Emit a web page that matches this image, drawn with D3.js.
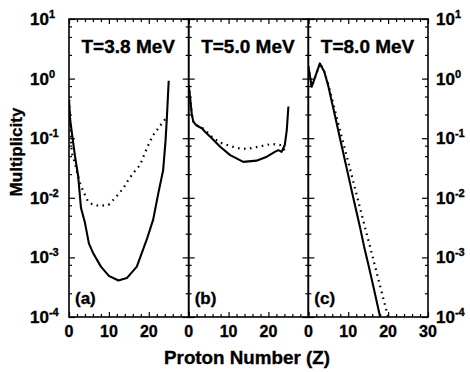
<!DOCTYPE html>
<html><head><meta charset="utf-8">
<script src="https://cdn.jsdelivr.net/npm/d3@7"></script>
<style>
body{margin:0;background:#fff}
text{font-family:"Liberation Sans",Arial,Helvetica,sans-serif;font-weight:bold;fill:#000;stroke:#000;stroke-width:0.35px}
</style>
</head><body>
<svg id="chart" width="470" height="372"></svg>
<script>
// ---- data ----
const panelLabels = ["(a)", "(b)", "(c)"];
const tempLabels = ["T=3.8 MeV", "T=5.0 MeV", "T=8.0 MeV"];
const xTickLabelsA = [0, 10, 20];
const xTickLabelsB = [0, 10, 20];
const xTickLabelsC = [0, 10, 20, 30];
const yTickExponents = [-4, -3, -2, -1, 0, 1];

const solidA_Z = [0, 0.3, 1.5, 2.3, 3, 4, 5, 6, 8, 10, 12.4, 14.5, 17, 19.5, 21.1, 22.4, 23.6, 24.2, 24.5, 25];
const solidA_M = [0.44, 0.2, 0.05, 0.023, 0.0068, 0.0038, 0.0017, 0.0012, 0.0007, 0.00049, 0.00041, 0.00045, 0.0007, 0.002, 0.0043, 0.012, 0.029, 0.09, 0.2, 0.92];
const dotA_Z = [0, 0.7, 1.5, 2.3, 2.8, 3.6, 4.8, 6, 7.8, 9.9, 12, 13.6, 14.9, 16.1, 17.8, 19, 19.9, 21.1, 22.4, 23.6, 24.2];
const dotA_M = [0.44, 0.056, 0.038, 0.0226, 0.0175, 0.0127, 0.0086, 0.0077, 0.0073, 0.0076, 0.0107, 0.0144, 0.02, 0.026, 0.0355, 0.056, 0.077, 0.113, 0.147, 0.19, 0.21];

const solidB_Z = [0, 0.33, 0.76, 1.16, 2, 3.3, 4.1, 5.8, 7.9, 10.4, 13.7, 17, 19.6, 21.6, 22.5, 23.3, 24.1, 24.6, 25];
const solidB_M = [0.78, 0.5, 0.26, 0.19, 0.163, 0.147, 0.128, 0.1, 0.072, 0.052, 0.04, 0.042, 0.049, 0.059, 0.063, 0.059, 0.077, 0.137, 0.34];
const dotB_Z = [0, 0.33, 0.76, 1.16, 2, 3.3, 4.1, 5.8, 7.9, 10.4, 12.4, 14.6, 16.6, 18.7, 20.8, 22.9, 24.7];
const dotB_M = [0.78, 0.5, 0.26, 0.19, 0.165, 0.15, 0.137, 0.106, 0.084, 0.074, 0.068, 0.066, 0.07, 0.075, 0.08, 0.077, 0.056];

const solidC_Z = [0, 0.85, 2.9, 4, 5, 6, 7, 8, 9, 10, 11, 12, 13, 14, 15, 16, 17, 18];
const solidC_M = [1.6, 0.73, 1.8, 1.3, 0.75, 0.38, 0.19, 0.095, 0.048, 0.024, 0.012, 0.0061, 0.0031, 0.0015, 0.00078, 0.0004, 0.0002, 0.0001];
const dotC_Z = [0, 0.85, 2.9, 4, 5, 6, 7, 8, 9, 10, 11, 12, 13, 14, 15, 16, 17, 18, 19, 20];
const dotC_M = [1.6, 0.73, 1.8, 1.3, 0.8, 0.44, 0.24, 0.13, 0.072, 0.04, 0.022, 0.012, 0.0066, 0.0036, 0.002, 0.0011, 0.0006, 0.00033, 0.00018, 0.0001];

// ---- layout ----
const svg = d3.select("#chart");
const plotL = 69, plotR = 428, plotT = 19, plotB = 317;
const panelW = (plotR - plotL) / 3;

const yScale = d3.scaleLog().domain([1e-4, 10]).range([plotB, plotT]);

const panels = [
  {solid: d3.zip(solidA_Z, solidA_M), dot: d3.zip(dotA_Z, dotA_M), xl: xTickLabelsA},
  {solid: d3.zip(solidB_Z, solidB_M), dot: d3.zip(dotB_Z, dotB_M), xl: xTickLabelsB},
  {solid: d3.zip(solidC_Z, solidC_M), dot: d3.zip(dotC_Z, dotC_M), xl: xTickLabelsC}
];

const minorY = [];
yTickExponents.forEach(e => { if (e < 1) [2.5, 5, 7.5].forEach(m => minorY.push(m * Math.pow(10, e))); });

panels.forEach((p, i) => {
  const x0 = plotL + i * panelW;
  const x = d3.scaleLinear().domain([0, 30]).range([x0, x0 + panelW]);
  const g = svg.append("g");

  svg.append("clipPath").attr("id", "clip" + i)
    .append("rect").attr("x", x0).attr("y", plotT).attr("width", panelW).attr("height", plotB - plotT);

  const line = d3.line().x(d => x(d[0])).y(d => yScale(d[1]));
  g.append("path").datum(p.dot).attr("d", line).attr("clip-path", `url(#clip${i})`)
    .attr("fill", "none").attr("stroke", "#000").attr("stroke-width", 2.2).attr("stroke-dasharray", "1.6 4.4");
  g.append("path").datum(p.solid).attr("d", line).attr("clip-path", `url(#clip${i})`)
    .attr("fill", "none").attr("stroke", "#000").attr("stroke-width", 2.1).attr("stroke-linejoin", "round");

  const majorX = [0, 10, 20, 30];
  const minorX = d3.range(0, 31, 2).filter(v => v % 10 !== 0);
  [[d3.axisBottom, plotB], [d3.axisTop, plotT]].forEach(([ax, yy]) => {
    g.append("g").attr("transform", `translate(0,${yy})`)
      .call(ax(x).tickValues(majorX).tickSize(-5).tickFormat(""))
      .call(s => s.select(".domain").remove());
    g.append("g").attr("transform", `translate(0,${yy})`)
      .call(ax(x).tickValues(minorX).tickSize(-3).tickFormat(""))
      .call(s => s.select(".domain").remove());
  });
  [[d3.axisLeft, x0], [d3.axisRight, x0 + panelW]].forEach(([ax, xx]) => {
    g.append("g").attr("transform", `translate(${xx},0)`)
      .call(ax(yScale).tickValues(yTickExponents.map(e => Math.pow(10, e))).tickSize(-6).tickFormat(""))
      .call(s => s.select(".domain").remove());
    g.append("g").attr("transform", `translate(${xx},0)`)
      .call(ax(yScale).tickValues(minorY).tickSize(-3).tickFormat(""))
      .call(s => s.select(".domain").remove());
  });
  g.selectAll(".tick line").attr("stroke", "#000").attr("stroke-width", 1.2);

  g.append("rect").attr("x", x0).attr("y", plotT).attr("width", panelW).attr("height", plotB - plotT)
    .attr("fill", "none").attr("stroke", "#000").attr("stroke-width", 1.6);

  g.selectAll(".xl").data(p.xl).enter().append("text")
    .attr("x", d => x(d)).attr("y", 337).attr("text-anchor", "middle")
    .style("font-size", "16px").text(d => d);

  g.append("text").attr("x", x0 + 12.5).attr("y", 53).style("font-size", "19px").text(tempLabels[i]);
  g.append("text").attr("x", x0 + 6).attr("y", 304).style("font-size", "17px").text(panelLabels[i]);
});

function yLabel(xpos, e) {
  const t = svg.append("text").attr("x", xpos).attr("y", yScale(Math.pow(10, e)) + 6).style("font-size", "17px");
  t.append("tspan").text("10");
  t.append("tspan").attr("dy", -7).style("font-size", "11px").text(e);
}
yTickExponents.forEach(e => { yLabel(30, e); yLabel(436, e); });

svg.append("text").attr("transform", "translate(22,152) rotate(-90)").attr("text-anchor", "middle")
  .style("font-size", "17px").text("Multiplicity");
svg.append("text").attr("x", 247).attr("y", 364).attr("text-anchor", "middle")
  .style("font-size", "18.8px").text("Proton Number (Z)");
</script>
</body></html>
